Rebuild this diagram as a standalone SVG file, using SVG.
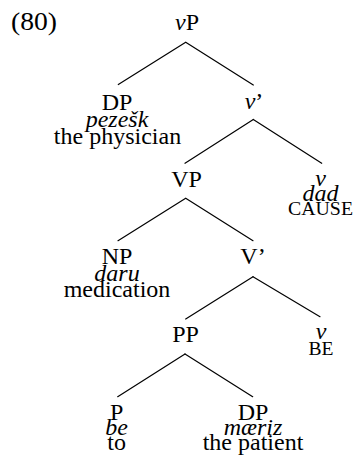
<svg xmlns="http://www.w3.org/2000/svg" width="356" height="457" viewBox="0 0 356 457">
  <style>
    text { font-family: "Liberation Serif", "Times New Roman", serif; font-size: 24px; fill: #000; text-anchor: middle; }
    .it { font-style: italic; }
    .sc { font-size: 18px; }
    .num { text-anchor: start; font-size: 25px; }
    .edge { stroke: #000; stroke-width: 1.2; fill: none; stroke-linecap: round; }
  </style>
  <rect width="356" height="457" fill="#fff"/>

  <text class="num" x="11" y="29.5" textLength="46" lengthAdjust="spacingAndGlyphs">(80)</text>

  <g id="connectors">
    <line class="edge" x1="185.7" y1="42.3" x2="118.3" y2="84.5"/>
    <line class="edge" x1="185.7" y1="42.3" x2="253.3" y2="85"/>
    <line class="edge" x1="253.3" y1="119.5" x2="185" y2="163.3"/>
    <line class="edge" x1="253.3" y1="119.5" x2="321.7" y2="163.3"/>
    <line class="edge" x1="185.7" y1="198.3" x2="118" y2="240.7"/>
    <line class="edge" x1="185.7" y1="198.3" x2="253" y2="240.7"/>
    <line class="edge" x1="253" y1="276.7" x2="185.7" y2="319"/>
    <line class="edge" x1="253" y1="276.7" x2="320" y2="316.7"/>
    <line class="edge" x1="185" y1="354" x2="117.7" y2="396.7"/>
    <line class="edge" x1="185" y1="354" x2="252.7" y2="396.7"/>
  </g>

  <g id="vP">
    <text x="187" y="29.5"><tspan class="it">v</tspan>P</text>
  </g>

  <g id="DP-pezeshk">
    <text x="117" y="109.5">DP</text>
    <text class="it" x="117" y="126.5">pezešk</text>
    <text x="117.5" y="144">the physician</text>
  </g>

  <g id="v-bar">
    <text x="254" y="108.5"><tspan class="it">v</tspan>’</text>
  </g>

  <g id="VP">
    <text x="186.5" y="186.7">VP</text>
  </g>

  <g id="v-cause">
    <text class="it" x="320.5" y="185.5">v</text>
    <text class="it" x="320.5" y="200.5">dad</text>
    <text class="sc" x="320.5" y="215" textLength="65" lengthAdjust="spacingAndGlyphs">CAUSE</text>
  </g>

  <g id="NP-daru">
    <text x="117" y="263.5">NP</text>
    <text class="it" x="117" y="281">daru</text>
    <text x="117" y="297">medication</text>
  </g>

  <g id="V-bar">
    <text x="253" y="263.5">V’</text>
  </g>

  <g id="PP">
    <text x="185.6" y="341.7">PP</text>
  </g>

  <g id="v-be">
    <text class="it" x="321" y="338.5">v</text>
    <text class="sc" x="321" y="354.5" textLength="25" lengthAdjust="spacingAndGlyphs">BE</text>
  </g>

  <g id="P-be">
    <text x="116.7" y="420">P</text>
    <text class="it" x="116.7" y="435">be</text>
    <text x="116.7" y="450">to</text>
  </g>

  <g id="DP-maeriz">
    <text x="253" y="420">DP</text>
    <text class="it" x="253" y="435">mæriz</text>
    <text x="253" y="450">the patient</text>
  </g>
</svg>
